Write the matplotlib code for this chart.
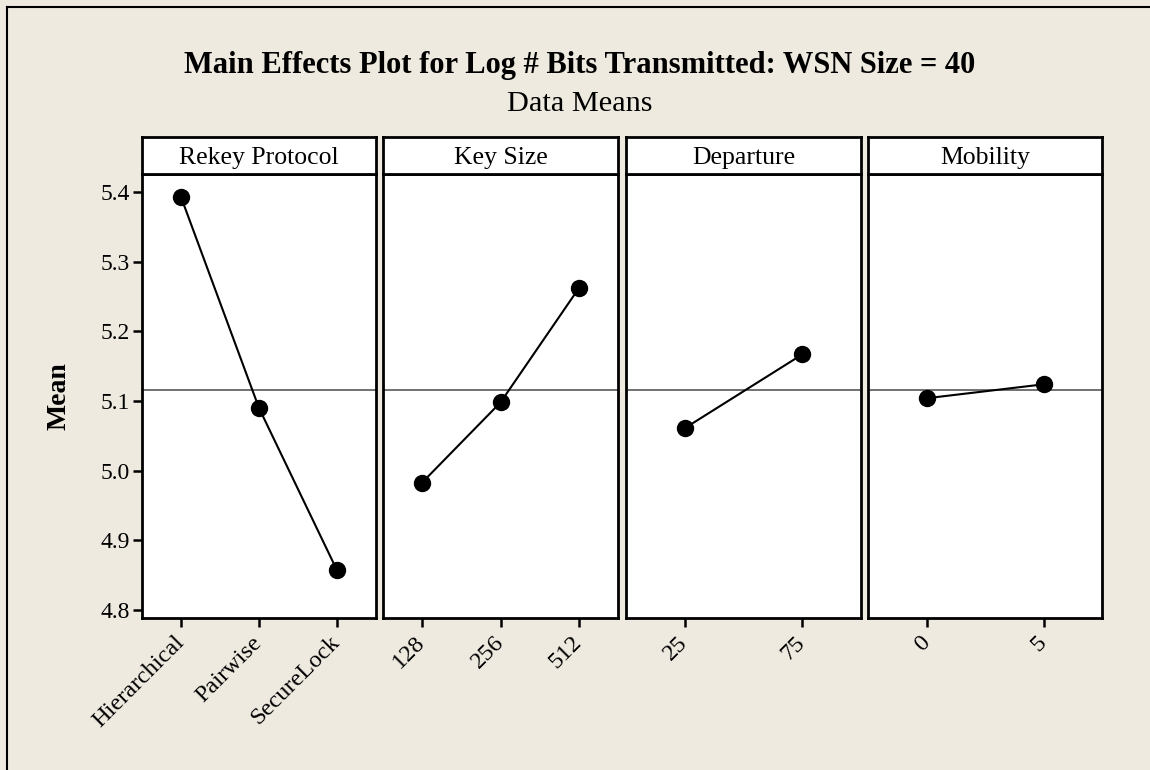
import matplotlib
matplotlib.use("Agg")
import matplotlib.pyplot as plt
from matplotlib.lines import Line2D

# ---- data ----
factors = ["Rekey Protocol", "Key Size", "Departure", "Mobility"]
rekey_levels = ["Hierarchical", "Pairwise", "SecureLock"]
rekey_means = [5.393, 5.090, 4.857]
keysize_levels = ["128", "256", "512"]
keysize_means = [4.983, 5.098, 5.262]
departure_levels = ["25", "75"]
departure_means = [5.061, 5.167]
mobility_levels = ["0", "5"]
mobility_means = [5.104, 5.124]
grand_mean = 5.116
y_ticks = [4.8, 4.9, 5.0, 5.1, 5.2, 5.3, 5.4]

levels_all = [rekey_levels, keysize_levels, departure_levels, mobility_levels]
means_all = [rekey_means, keysize_means, departure_means, mobility_means]

plt.rcParams['font.family'] = ['Liberation Serif', 'DejaVu Serif']

W, H = 1150, 770
bg = '#EEEAE0'
fig = plt.figure(figsize=(W / 100, H / 100), dpi=100, facecolor=bg)

# figure border (top and left)
fig.add_artist(Line2D([7 / W, 1.0], [1 - 7 / H, 1 - 7 / H], color='black', lw=1.5,
                      transform=fig.transFigure))
fig.add_artist(Line2D([7 / W, 7 / W], [0, 1 - 7 / H], color='black', lw=1.5,
                      transform=fig.transFigure))

fig.text(580 / W, 1 - 65 / H, "Main Effects Plot for Log # Bits Transmitted: WSN Size = 40",
         ha='center', va='center', fontsize=22, fontweight='bold')
fig.text(580 / W, 1 - 104 / H, "Data Means", ha='center', va='center', fontsize=21.8)

panels_x = [(142, 376), (383, 618), (626, 861), (868, 1102)]
ax_top, ax_bot = 174, 618
strip_top = 137
ylim = (4.7885, 5.426)

for i, ((x0, x1), name, levs, vals) in enumerate(zip(panels_x, factors, levels_all, means_all)):
    ax = fig.add_axes([x0 / W, 1 - ax_bot / H, (x1 - x0) / W, (ax_bot - ax_top) / H])
    ax.set_facecolor('white')
    n = len(levs)
    xs = list(range(n))
    ax.axhline(grand_mean, color='#666666', lw=1.3, zorder=1)
    ax.plot(xs, vals, color='black', lw=1.5, marker='o', markersize=11.5, zorder=3)
    ax.set_xlim(-0.5, n - 0.5)
    ax.set_ylim(*ylim)
    ax.set_xticks(xs)
    ax.set_xticklabels(levs, rotation=45, ha='right', va='center', rotation_mode='anchor',
                       fontsize=17.5)
    for sp in ax.spines.values():
        sp.set_linewidth(2)
        sp.set_color('black')
    ax.tick_params(axis='x', length=6.5, width=1.8, pad=9, direction='out')
    if i == 0:
        ax.set_yticks(y_ticks)
        ax.set_yticklabels([f"{v:.1f}" for v in y_ticks], fontsize=17)
        ax.tick_params(axis='y', length=6.5, width=1.8, pad=2, direction='out')
        ax.set_ylabel("Mean", fontsize=20, fontweight='bold', labelpad=21)
    else:
        ax.set_yticks([])

    sax = fig.add_axes([x0 / W, 1 - ax_top / H, (x1 - x0) / W, (ax_top - strip_top) / H])
    sax.set_facecolor('white')
    sax.set_xticks([])
    sax.set_yticks([])
    for sp in sax.spines.values():
        sp.set_linewidth(2)
        sp.set_color('black')
    sax.text(0.5, 0.43, name, ha='center', va='center', fontsize=18.5,
             transform=sax.transAxes)

fig.savefig("out.png", dpi=100, facecolor=bg)
